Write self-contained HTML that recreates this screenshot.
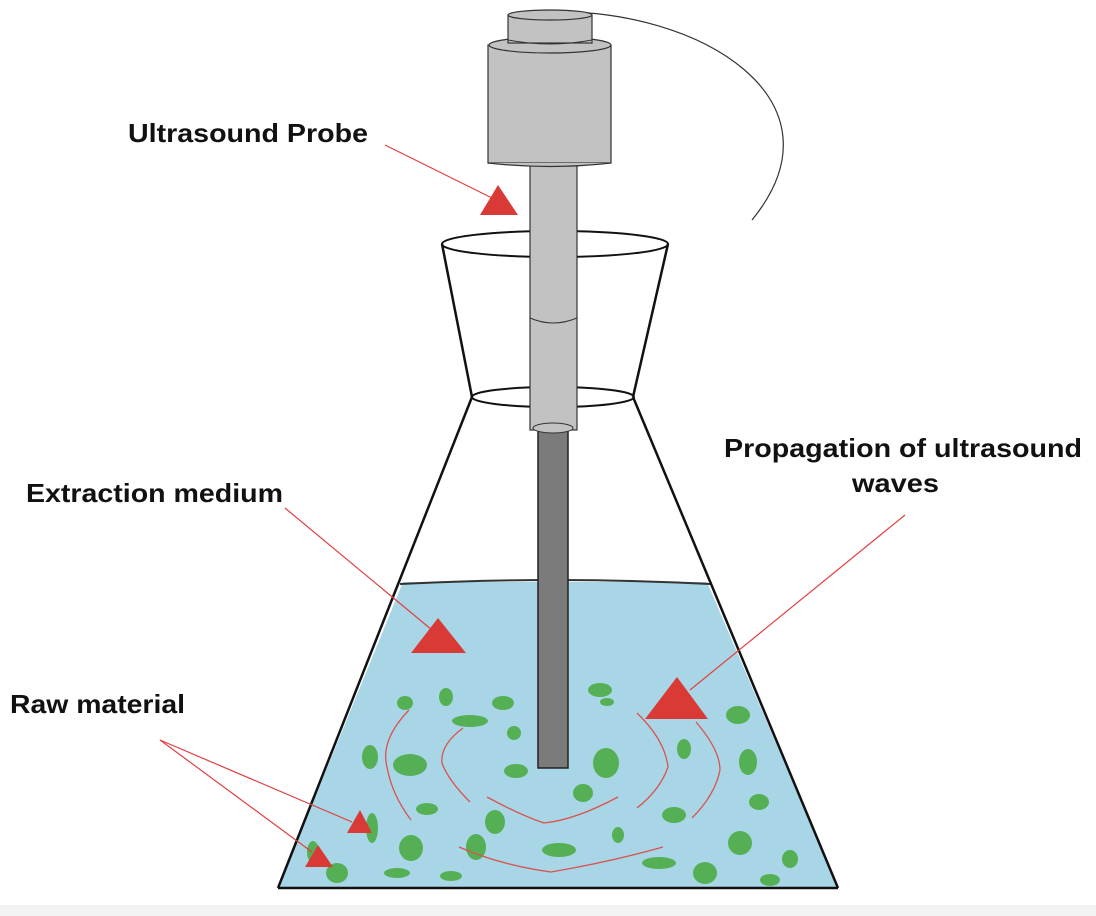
<!DOCTYPE html>
<html><head><style>
html,body{margin:0;padding:0;background:#fff;}
svg{display:block;}
text{font-family:"Liberation Sans",sans-serif;font-weight:bold;font-size:26px;fill:#111;}
</style></head><body>
<svg width="1096" height="916" viewBox="0 0 1096 916" xmlns="http://www.w3.org/2000/svg">
<rect x="0" y="0" width="1096" height="916" fill="#fff"/>
<rect x="0" y="905" width="1096" height="11" fill="#f3f3f3"/>
<path d="M550,12 C700,8 850,100 752,220" fill="none" stroke="#333" stroke-width="1.2"/>
<path d="M403,582 L707,582 L838,888 L278,888 Z" fill="#a9d6e6"/>
<path d="M400,584 Q555,576 710,584" fill="none" stroke="#333" stroke-width="2"/>
<line x1="472" y1="397" x2="278" y2="888" stroke="#111" stroke-width="2.5"/>
<line x1="633" y1="397" x2="838" y2="888" stroke="#111" stroke-width="2.5"/>
<line x1="278" y1="888" x2="838" y2="888" stroke="#111" stroke-width="2.5"/>
<line x1="442" y1="244" x2="472" y2="397" stroke="#111" stroke-width="2.5"/>
<line x1="668" y1="244" x2="633" y2="397" stroke="#111" stroke-width="2.5"/>
<ellipse cx="555" cy="244" rx="113" ry="13" fill="none" stroke="#111" stroke-width="2"/>
<ellipse cx="553" cy="397" rx="81" ry="10" fill="none" stroke="#111" stroke-width="2"/>
<rect x="538" y="428" width="30" height="340" fill="#7b7b7b" stroke="#222" stroke-width="1.5"/>
<rect x="530" y="163" width="47" height="267" fill="#c2c2c2" stroke="#333" stroke-width="1.2"/>
<path d="M530,318 Q553,328 577,318" fill="none" stroke="#333" stroke-width="1"/>
<ellipse cx="553" cy="428" rx="20" ry="5" fill="#c2c2c2" stroke="#333" stroke-width="1"/>
<rect x="488" y="45" width="123" height="118" fill="#c2c2c2" stroke="#333" stroke-width="1.2"/>
<path d="M488,163 Q550,170 611,163" fill="#c2c2c2" stroke="#333" stroke-width="1.2"/>
<ellipse cx="550" cy="45" rx="61" ry="8" fill="#c2c2c2" stroke="#333" stroke-width="1.2"/>
<rect x="508" y="15" width="84" height="28" fill="#c2c2c2" stroke="#333" stroke-width="1.2"/>
<path d="M508,40 Q550,48 592,40" fill="none" stroke="#333" stroke-width="1"/>
<ellipse cx="550" cy="15" rx="42" ry="5" fill="#c2c2c2" stroke="#333" stroke-width="1.2"/>
<g fill="#55b055">
<ellipse cx="405" cy="703" rx="8" ry="7"/><ellipse cx="446" cy="697" rx="7" ry="9"/>
<ellipse cx="503" cy="703" rx="11" ry="7"/><ellipse cx="470" cy="721" rx="18" ry="6"/>
<ellipse cx="514" cy="733" rx="7" ry="7"/><ellipse cx="600" cy="690" rx="12" ry="7"/>
<ellipse cx="607" cy="702" rx="7" ry="4"/><ellipse cx="738" cy="715" rx="12" ry="9"/>
<ellipse cx="370" cy="757" rx="8" ry="12"/><ellipse cx="410" cy="765" rx="17" ry="11"/>
<ellipse cx="516" cy="771" rx="12" ry="7"/><ellipse cx="606" cy="763" rx="13" ry="15"/>
<ellipse cx="684" cy="749" rx="7" ry="10"/><ellipse cx="748" cy="762" rx="9" ry="13"/>
<ellipse cx="583" cy="793" rx="10" ry="9"/><ellipse cx="759" cy="802" rx="10" ry="8"/>
<ellipse cx="427" cy="809" rx="11" ry="6"/><ellipse cx="495" cy="822" rx="10" ry="12"/>
<ellipse cx="674" cy="815" rx="12" ry="8"/><ellipse cx="372" cy="828" rx="6" ry="15"/>
<ellipse cx="411" cy="848" rx="12" ry="13"/><ellipse cx="476" cy="847" rx="10" ry="13"/>
<ellipse cx="618" cy="835" rx="6" ry="8"/><ellipse cx="559" cy="850" rx="17" ry="7"/>
<ellipse cx="740" cy="843" rx="12" ry="12"/><ellipse cx="790" cy="859" rx="8" ry="9"/>
<ellipse cx="313" cy="852" rx="6" ry="11"/><ellipse cx="337" cy="873" rx="11" ry="10"/>
<ellipse cx="397" cy="873" rx="13" ry="5"/><ellipse cx="451" cy="876" rx="11" ry="5"/>
<ellipse cx="659" cy="863" rx="17" ry="6"/><ellipse cx="705" cy="873" rx="12" ry="11"/>
<ellipse cx="770" cy="880" rx="10" ry="6"/>
</g>
<g fill="none" stroke="#d9534f" stroke-width="1.3">
<path d="M409,710 Q380,740 387,767 Q392,795 411,820"/>
<path d="M463,728 Q440,745 442,763 Q448,780 470,802"/>
<path d="M487,797 Q520,815 544,823 Q575,820 618,797"/>
<path d="M459,847 Q500,865 551,872 Q610,862 663,847"/>
<path d="M637,713 Q665,740 668,767 Q660,790 637,808"/>
<path d="M696,722 Q720,750 720,770 Q715,795 692,818"/>
</g>
<g stroke="#e04040" stroke-width="1.2">
<line x1="385" y1="145" x2="492" y2="198"/>
<line x1="285" y1="508" x2="432" y2="630"/>
<line x1="905" y1="515" x2="690" y2="690"/>
<line x1="160" y1="740" x2="352" y2="822"/>
<line x1="160" y1="740" x2="312" y2="852"/>
</g>
<g fill="#d93a35">
<polygon points="498,185 480,215 518,215"/>
<polygon points="438,618 411,653 466,653"/>
<polygon points="677,677 645,719 708,719"/>
<polygon points="360,810 347,833 372,833"/>
<polygon points="318,845 305,867 333,867"/>
</g>
<text x="128" y="142" textLength="240" lengthAdjust="spacingAndGlyphs">Ultrasound Probe</text>
<text x="26" y="502" textLength="257" lengthAdjust="spacingAndGlyphs">Extraction medium</text>
<text x="724" y="457" textLength="358" lengthAdjust="spacingAndGlyphs">Propagation of ultrasound</text>
<text x="852" y="492" textLength="87" lengthAdjust="spacingAndGlyphs">waves</text>
<text x="10" y="713" textLength="175" lengthAdjust="spacingAndGlyphs">Raw material</text>
</svg>
</body></html>
